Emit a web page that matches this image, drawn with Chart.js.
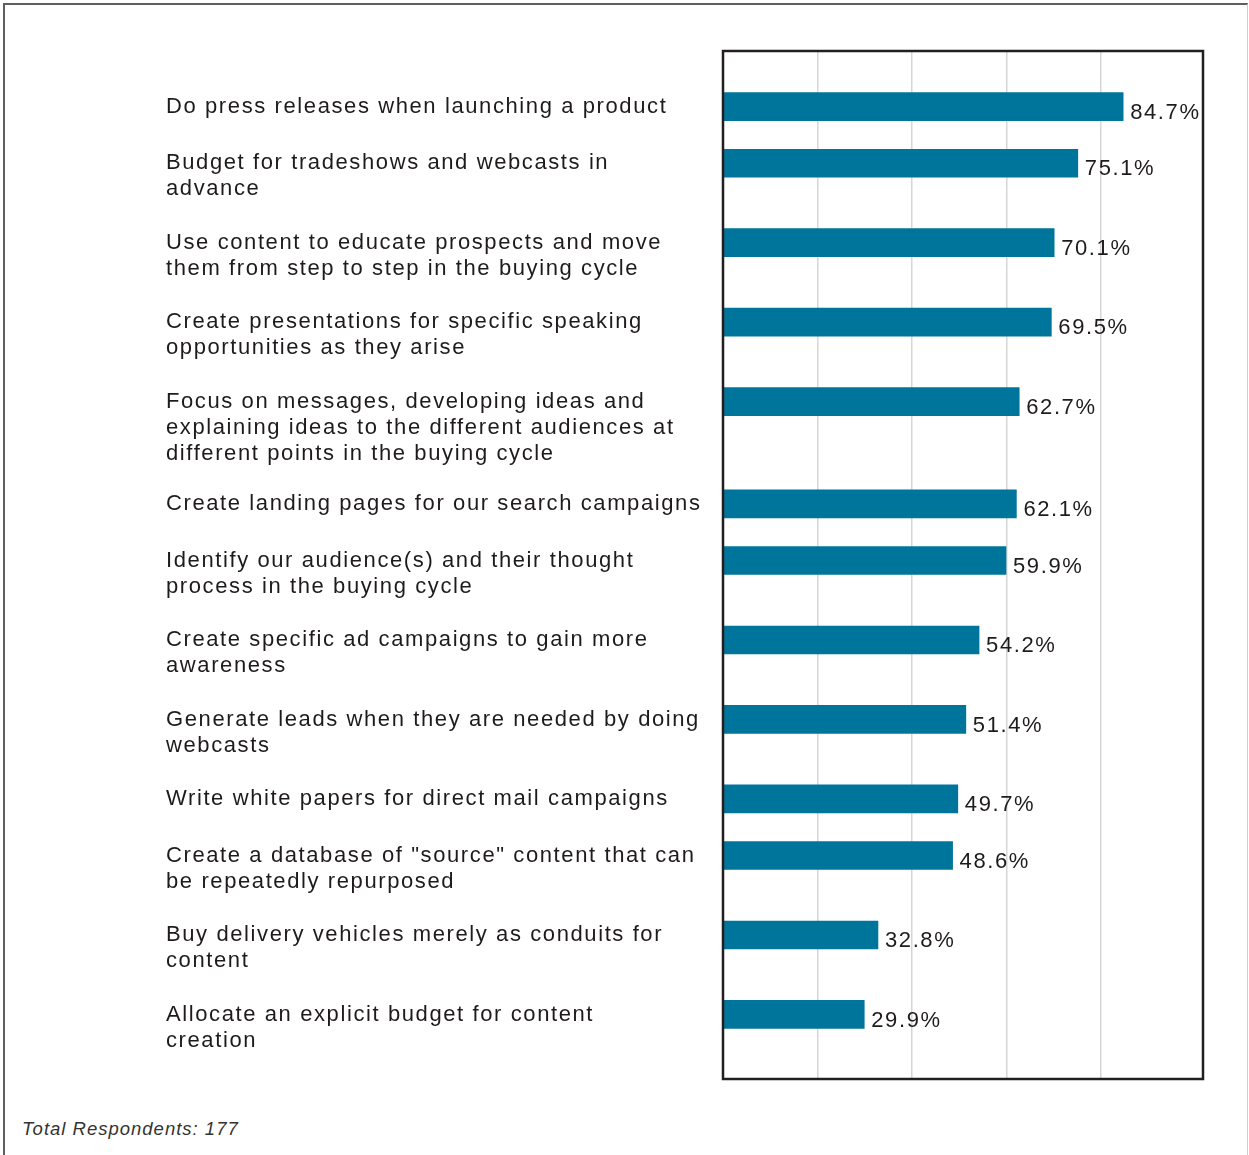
<!DOCTYPE html>
<html>
<head>
<meta charset="utf-8">
<script src="https://cdn.jsdelivr.net/npm/chart.js@4.4.0/dist/chart.umd.min.js"></script>
<style>
  html, body { margin: 0; padding: 0; background: #fff; }
  .page { position: relative; width: 1249px; height: 1155px; overflow: hidden; }
  .frame { position: absolute; left: 3px; top: 3px; width: 1242px; height: 1160px;
           border-top: 2px solid #5f5f5f; border-left: 2px solid #5f5f5f; border-right: 1px solid #cfcfcf; }
  #chart { position: absolute; left: 0; top: 0; }
  .note { position: absolute; left: 22px; top: 1120px; color: #333;
          font: italic 18.5px/1 "Liberation Sans", Arial, sans-serif; letter-spacing: 1px; }
</style>
</head>
<body>
<div class="page">
  <div class="frame"></div>
  <canvas id="chart" width="1249" height="1100"></canvas>
  <div class="note">Total Respondents: 177</div>
</div>
<script>
const labels = [
    'Do press releases when launching a product',
    ['Budget for tradeshows and webcasts in', 'advance'],
    ['Use content to educate prospects and move', 'them from step to step in the buying cycle'],
    ['Create presentations for specific speaking', 'opportunities as they arise'],
    ['Focus on messages, developing ideas and', 'explaining ideas to the different audiences at', 'different points in the buying cycle'],
    'Create landing pages for our search campaigns',
    ['Identify our audience(s) and their thought', 'process in the buying cycle'],
    ['Create specific ad campaigns to gain more', 'awareness'],
    ['Generate leads when they are needed by doing', 'webcasts'],
    'Write white papers for direct mail campaigns',
    ['Create a database of "source" content that can', 'be repeatedly repurposed'],
    ['Buy delivery vehicles merely as conduits for', 'content'],
    ['Allocate an explicit budget for content', 'creation']
];
const values = [84.7, 75.1, 70.1, 69.5, 62.7, 62.1, 59.9, 54.2, 51.4, 49.7, 48.6, 32.8, 29.9];
const gridTicks = [20, 40, 60, 80];

const FONT = '"Liberation Sans", Arial, Helvetica, sans-serif';
const INK = '#1f1b1c';

// each row takes room for its wrapped label, so rows sit further apart after long labels
const lineCount = labels.map(l => [].concat(l).length);
const rowPos = [];
lineCount.reduce((pos, n) => { rowPos.push(pos); return pos + 34 + 23 * n; }, 0);

const tracking = {
    id: 'tracking',
    beforeDraw(chart) { chart.ctx.letterSpacing = '1.6px'; },
    afterDraw(chart) { chart.ctx.letterSpacing = '0px'; }
};

const valueLabels = {
    id: 'valueLabels',
    afterDatasetsDraw(chart) {
        const ctx = chart.ctx;
        ctx.save();
        ctx.font = '22px ' + FONT;
        ctx.fillStyle = INK;
        ctx.textAlign = 'left';
        ctx.textBaseline = 'middle';
        chart.getDatasetMeta(0).data.forEach((bar, i) => {
            ctx.fillText(values[i].toFixed(1) + '%', bar.x + 7, bar.y + 6);
        });
        ctx.restore();
    }
};

const plotFrame = {
    id: 'plotFrame',
    afterDraw(chart) {
        const { left, top, width, height } = chart.chartArea;
        const ctx = chart.ctx;
        ctx.save();
        ctx.strokeStyle = '#231f20';
        ctx.lineWidth = 2.5;
        ctx.strokeRect(left, top, width, height);
        ctx.restore();
    }
};

new Chart(document.getElementById('chart'), {
    type: 'bar',
    data: {
        datasets: [{
            data: values.map((v, i) => ({ x: v, y: rowPos[i] })),
            backgroundColor: '#00759b',
            barThickness: 28
        }]
    },
    options: {
        indexAxis: 'y',
        responsive: false,
        animation: false,
        layout: { padding: { left: 166, top: 51, right: 46, bottom: 21 } },
        plugins: { legend: { display: false }, tooltip: { enabled: false } },
        scales: {
            x: {
                type: 'linear',
                min: 0,
                max: 101.6,
                afterBuildTicks: s => { s.ticks = gridTicks.map(v => ({ value: v })); },
                ticks: { display: false },
                grid: { color: '#d6d6d6', lineWidth: 1.5, drawTicks: false },
                border: { display: false }
            },
            y: {
                type: 'linear',
                reverse: true,
                offset: false,
                min: -56,
                max: rowPos[rowPos.length - 1] + 65,
                afterBuildTicks: s => { s.ticks = rowPos.map(v => ({ value: v })); },
                afterFit: s => { s.width = 557; },
                grid: { display: false },
                border: { display: false },
                ticks: {
                    autoSkip: false,
                    crossAlign: 'far',
                    color: INK,
                    font: { family: FONT, size: 22, lineHeight: 26 / 22 },
                    // pad with blank lines so the first line sits level with the bar
                    callback: (v, i) => {
                        const lines = [].concat(labels[i]);
                        return Array(lines.length - 1).fill('').concat(lines);
                    }
                }
            }
        }
    },
    plugins: [tracking, valueLabels, plotFrame]
});
</script>
</body>
</html>
